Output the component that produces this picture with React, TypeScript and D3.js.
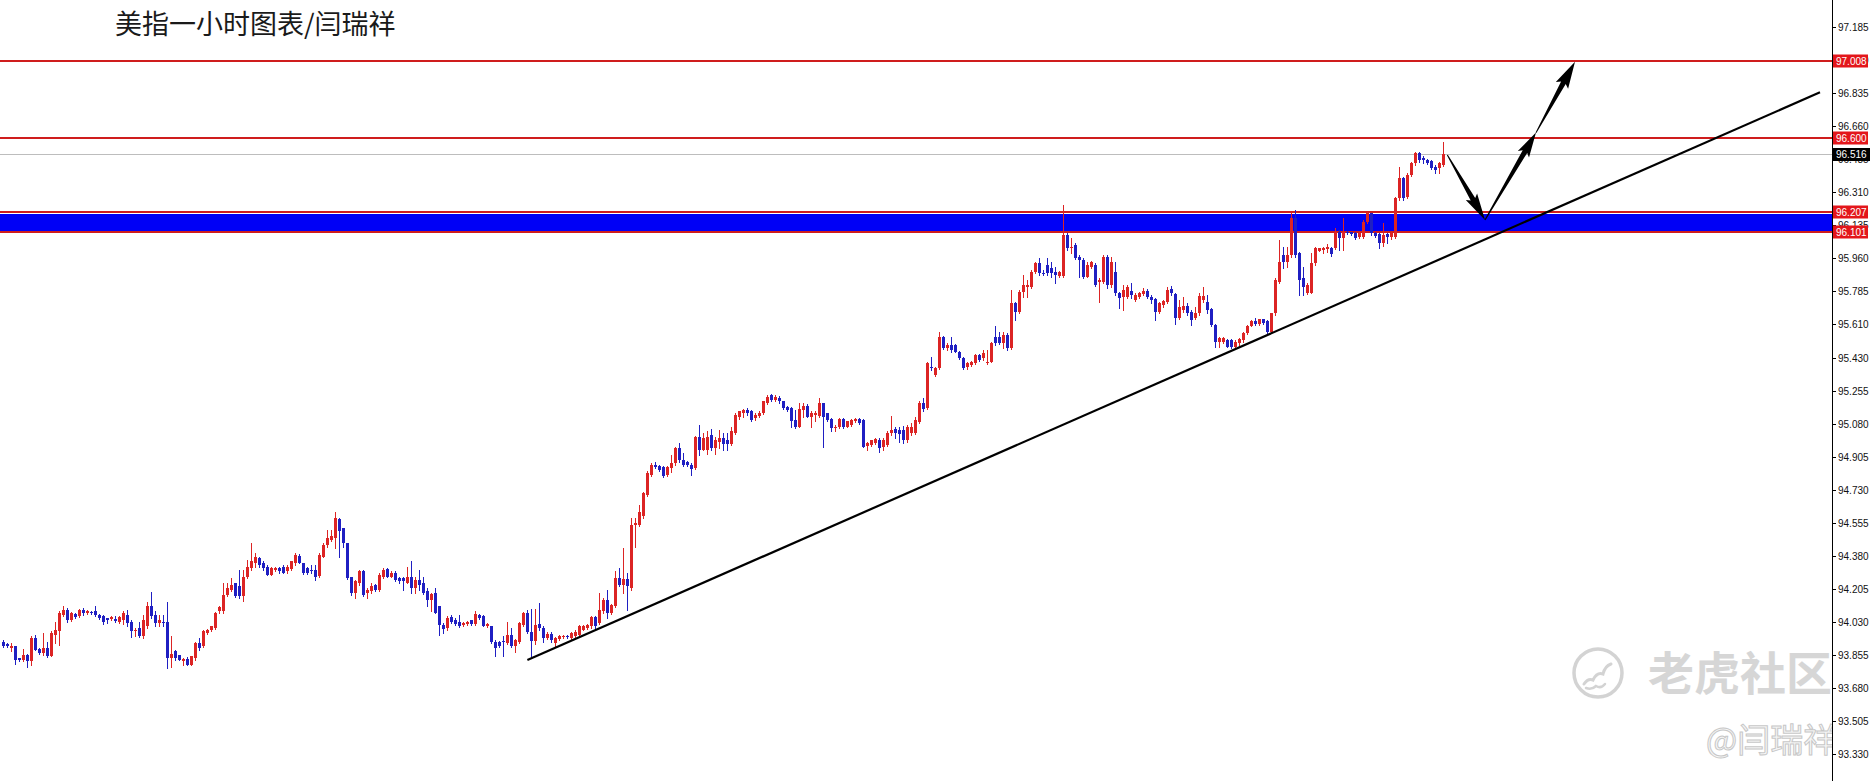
import React, { useEffect } from 'react';
import * as d3 from 'd3';

// ---- Candle data (USD index, 1h) ----
const openP = [
93.926,93.914,93.891,93.900,93.838,93.829,93.856,93.820,93.944,93.886,
93.864,93.891,93.850,93.962,93.980,94.068,94.094,94.041,94.073,94.059,
94.094,94.077,94.082,94.086,94.068,94.059,94.050,94.045,94.045,94.032,
94.041,94.068,94.032,93.980,93.997,93.953,94.006,94.116,94.068,94.024,
94.032,94.032,93.838,93.873,93.852,93.820,93.834,93.803,93.841,93.918,
93.900,93.971,93.985,93.997,94.086,94.086,94.174,94.200,94.236,94.218,
94.165,94.271,94.315,94.342,94.368,94.342,94.324,94.280,94.303,94.315,
94.324,94.298,94.310,94.342,94.381,94.342,94.315,94.303,94.307,94.275,
94.377,94.436,94.466,94.475,94.575,94.528,94.448,94.271,94.183,94.236,
94.298,94.183,94.195,94.227,94.200,94.271,94.310,94.271,94.289,94.262,
94.262,94.239,94.271,94.209,94.253,94.236,94.192,94.147,94.183,94.112,
94.015,93.997,94.055,94.041,94.032,94.015,94.020,94.038,94.020,94.068,
94.063,94.006,94.006,93.926,93.926,93.930,93.918,93.962,93.900,93.926,
94.015,94.077,93.975,93.930,94.020,93.997,93.944,93.967,93.918,93.940,
93.950,93.955,93.944,93.953,93.962,93.988,93.997,94.006,94.056,94.024,
94.086,94.147,94.077,94.112,94.262,94.227,94.257,94.209,94.545,94.545,
94.590,94.705,94.811,94.864,94.858,94.851,94.811,94.846,94.872,94.952,
94.890,94.881,94.864,94.846,95.014,94.943,94.943,95.023,94.952,94.987,
95.005,94.996,94.975,95.032,95.117,95.138,95.155,95.147,95.111,95.124,
95.138,95.191,95.235,95.209,95.221,95.200,95.173,95.164,95.102,95.067,
95.155,95.177,95.120,95.129,95.124,95.194,95.138,95.106,95.058,95.064,
95.106,95.067,95.076,95.094,95.106,95.102,94.965,94.970,94.979,94.996,
94.961,94.970,95.032,95.053,95.049,95.050,94.996,95.032,95.032,95.090,
95.191,95.164,95.385,95.341,95.376,95.544,95.483,95.500,95.500,95.465,
95.430,95.385,95.394,95.403,95.447,95.430,95.403,95.412,95.544,95.544,
95.509,95.553,95.483,95.721,95.677,95.783,95.806,95.810,95.889,95.934,
95.880,95.925,95.907,95.889,95.866,95.866,96.084,96.013,96.031,95.969,
95.951,95.863,95.916,95.925,95.836,95.836,95.969,95.819,95.889,95.774,
95.757,95.757,95.789,95.739,95.757,95.771,95.789,95.757,95.743,95.677,
95.713,95.730,95.796,95.771,95.642,95.686,95.707,95.677,95.642,95.668,
95.739,95.730,95.689,95.606,95.518,95.518,95.527,95.527,95.491,95.513,
95.527,95.562,95.601,95.629,95.612,95.636,95.629,95.571,95.668,95.836,
95.978,95.942,95.978,96.172,95.987,95.854,95.774,95.778,95.934,96.001,
96.004,96.008,96.013,96.013,96.102,96.066,96.102,96.097,96.093,96.071,
96.075,96.155,96.199,96.093,96.089,96.040,96.089,96.075,96.075,96.278,
96.384,96.284,96.402,96.464,96.521,96.491,96.482,96.478,96.446,96.437,96.455
];
const highP = [
93.935,93.918,93.918,93.902,93.841,93.886,93.860,93.953,93.962,93.890,
93.971,93.923,93.980,94.032,94.086,94.112,94.103,94.082,94.077,94.098,
94.103,94.094,94.089,94.112,94.071,94.068,94.050,94.059,94.059,94.064,
94.086,94.094,94.041,93.997,94.032,94.068,94.135,94.188,94.086,94.068,
94.068,94.135,93.953,93.879,93.856,93.838,93.843,93.850,93.921,93.944,
93.988,93.993,94.009,94.080,94.112,94.236,94.236,94.262,94.239,94.307,
94.307,94.360,94.448,94.395,94.377,94.351,94.333,94.321,94.321,94.321,
94.333,94.333,94.354,94.395,94.391,94.345,94.321,94.333,94.333,94.395,
94.448,94.519,94.519,94.612,94.581,94.528,94.448,94.271,94.253,94.307,
94.307,94.209,94.236,94.230,94.289,94.315,94.315,94.298,94.298,94.266,
94.271,94.321,94.354,94.271,94.307,94.271,94.209,94.183,94.209,94.116,
94.024,94.059,94.068,94.050,94.068,94.029,94.036,94.041,94.086,94.071,
94.068,94.024,94.009,93.935,93.930,93.953,94.032,93.997,93.939,94.032,
94.080,94.094,94.100,94.100,94.130,94.010,93.975,93.975,93.950,93.958,
93.960,93.962,93.975,93.985,94.015,94.015,94.020,94.060,94.060,94.183,
94.156,94.201,94.125,94.298,94.315,94.422,94.289,94.581,94.581,94.652,
94.722,94.830,94.872,94.880,94.862,94.855,94.855,94.917,94.961,94.979,
94.926,94.885,94.876,95.018,95.076,95.032,95.041,95.053,95.014,95.046,
95.035,95.035,95.062,95.138,95.152,95.159,95.168,95.155,95.138,95.147,
95.203,95.235,95.240,95.235,95.230,95.205,95.177,95.170,95.155,95.194,
95.191,95.187,95.147,95.147,95.217,95.194,95.141,95.111,95.076,95.111,
95.111,95.099,95.106,95.111,95.111,95.106,94.987,94.998,95.005,95.005,
95.005,95.041,95.124,95.067,95.067,95.070,95.076,95.085,95.120,95.200,
95.217,95.412,95.438,95.385,95.571,95.548,95.509,95.544,95.505,95.470,
95.438,95.412,95.417,95.452,95.452,95.474,95.474,95.518,95.598,95.571,
95.571,95.562,95.792,95.730,95.792,95.872,95.845,95.898,95.942,95.960,
95.898,95.960,95.942,95.916,95.893,96.243,96.093,96.066,96.040,95.978,
95.960,95.942,95.948,95.934,95.854,95.978,95.978,95.969,95.942,95.783,
95.819,95.819,95.827,95.774,95.783,95.801,95.796,95.766,95.748,95.730,
95.739,95.810,95.813,95.774,95.739,95.757,95.721,95.686,95.700,95.774,
95.806,95.766,95.695,95.612,95.541,95.541,95.530,95.530,95.527,95.536,
95.571,95.606,95.633,95.642,95.640,95.640,95.633,95.672,95.854,96.057,
96.022,96.022,96.208,96.216,95.995,95.916,95.827,95.987,96.022,96.017,
96.022,96.036,96.022,96.119,96.110,96.172,96.106,96.102,96.097,96.097,
96.163,96.208,96.202,96.097,96.093,96.146,96.093,96.102,96.287,96.446,
96.393,96.411,96.473,96.526,96.526,96.503,96.485,96.482,96.455,96.473,96.579
];
const lowP = [
93.895,93.896,93.873,93.806,93.820,93.820,93.790,93.803,93.879,93.860,
93.856,93.845,93.847,93.918,93.909,94.059,94.032,94.036,94.050,94.055,
94.068,94.073,94.073,94.059,94.045,94.020,94.024,94.038,94.027,94.024,
94.020,94.006,93.949,93.953,93.949,93.944,93.997,94.050,94.006,94.006,
94.006,93.785,93.790,93.829,93.826,93.803,93.799,93.799,93.829,93.882,
93.895,93.965,93.980,93.993,94.077,94.077,94.165,94.192,94.160,94.156,
94.139,94.262,94.307,94.324,94.324,94.307,94.277,94.277,94.298,94.292,
94.289,94.292,94.307,94.333,94.342,94.285,94.285,94.292,94.253,94.271,
94.374,94.430,94.457,94.421,94.377,94.430,94.259,94.174,94.156,94.227,
94.169,94.156,94.183,94.195,94.195,94.262,94.266,94.266,94.248,94.239,
94.200,94.236,94.183,94.183,94.200,94.179,94.112,94.086,94.077,93.962,
93.971,93.988,94.024,94.011,94.002,94.006,94.015,94.015,94.015,94.045,
94.006,94.002,93.918,93.847,93.895,93.847,93.914,93.896,93.868,93.918,
94.006,93.970,93.847,93.915,93.988,93.926,93.940,93.926,93.900,93.935,
93.945,93.946,93.940,93.950,93.958,93.985,93.993,94.000,94.000,94.020,
94.077,94.050,94.070,94.108,94.218,94.183,94.095,94.201,94.430,94.537,
94.581,94.700,94.802,94.846,94.830,94.798,94.805,94.828,94.864,94.881,
94.858,94.860,94.811,94.841,94.917,94.940,94.922,94.943,94.922,94.952,
94.940,94.940,94.970,95.028,95.106,95.117,95.129,95.099,95.102,95.120,
95.134,95.187,95.205,95.205,95.194,95.159,95.152,95.067,95.058,95.064,
95.120,95.117,95.067,95.094,95.120,94.961,95.099,95.041,95.041,95.060,
95.060,95.062,95.071,95.090,95.080,94.956,94.940,94.965,94.975,94.934,
94.940,94.965,95.023,95.005,94.987,94.980,94.987,95.023,95.028,95.085,
95.147,95.159,95.368,95.336,95.371,95.477,95.474,95.465,95.460,95.425,
95.371,95.371,95.390,95.399,95.417,95.421,95.399,95.407,95.500,95.506,
95.483,95.474,95.478,95.633,95.672,95.757,95.757,95.801,95.880,95.872,
95.872,95.872,95.863,95.827,95.862,95.863,96.004,95.987,95.955,95.863,
95.854,95.859,95.907,95.813,95.730,95.827,95.801,95.810,95.766,95.695,
95.686,95.748,95.748,95.735,95.748,95.766,95.748,95.721,95.633,95.668,
95.704,95.725,95.766,95.612,95.636,95.677,95.659,95.606,95.636,95.659,
95.730,95.668,95.601,95.491,95.491,95.513,95.488,95.486,95.488,95.500,
95.518,95.559,95.598,95.606,95.608,95.612,95.566,95.566,95.659,95.831,
95.907,95.916,95.969,95.969,95.766,95.766,95.771,95.774,95.925,95.997,
95.990,95.995,95.973,96.008,96.004,96.004,96.089,96.084,96.061,96.066,
96.066,96.146,96.084,96.075,96.013,96.025,96.040,96.061,96.066,96.270,
96.270,96.278,96.397,96.455,96.473,96.468,96.460,96.432,96.411,96.411,96.450
];
const closeP = [
93.900,93.900,93.900,93.829,93.826,93.856,93.820,93.944,93.882,93.864,
93.891,93.847,93.971,93.985,94.077,94.094,94.041,94.077,94.055,94.094,
94.077,94.089,94.077,94.068,94.050,94.032,94.041,94.054,94.036,94.054,
94.077,94.024,93.980,93.988,93.953,94.041,94.112,94.059,94.024,94.038,
94.027,93.838,93.861,93.838,93.829,93.834,93.803,93.847,93.918,93.891,
93.980,93.988,94.006,94.077,94.107,94.174,94.209,94.227,94.165,94.165,
94.271,94.324,94.351,94.377,94.333,94.315,94.280,94.315,94.315,94.298,
94.292,94.321,94.351,94.386,94.345,94.289,94.289,94.298,94.271,94.386,
94.439,94.475,94.487,94.581,94.510,94.448,94.262,94.183,94.245,94.298,
94.174,94.200,94.222,94.200,94.280,94.307,94.271,94.289,94.253,94.245,
94.245,94.271,94.209,94.253,94.227,94.183,94.147,94.179,94.077,94.015,
93.992,94.050,94.032,94.020,94.006,94.024,94.032,94.020,94.071,94.050,
94.009,94.020,93.926,93.891,93.900,93.926,93.962,93.900,93.935,94.024,
94.077,93.979,93.930,94.015,93.997,93.944,93.967,93.935,93.944,93.953,
93.955,93.952,93.971,93.979,94.006,94.010,94.015,94.056,94.006,94.095,
94.147,94.077,94.121,94.262,94.227,94.257,94.218,94.545,94.554,94.616,
94.713,94.823,94.864,94.851,94.834,94.802,94.851,94.872,94.952,94.890,
94.864,94.864,94.841,95.014,94.943,95.005,95.014,94.952,94.996,95.005,
94.975,94.975,95.041,95.129,95.147,95.155,95.138,95.102,95.129,95.141,
95.200,95.226,95.209,95.223,95.200,95.164,95.155,95.094,95.067,95.159,
95.177,95.120,95.138,95.138,95.194,95.120,95.102,95.058,95.067,95.106,
95.064,95.094,95.102,95.106,95.085,94.961,94.982,94.993,95.000,94.952,
94.996,95.035,95.049,95.032,95.028,94.996,95.067,95.067,95.100,95.191,
95.160,95.403,95.376,95.376,95.544,95.483,95.500,95.474,95.465,95.430,
95.376,95.403,95.412,95.447,95.421,95.456,95.412,95.509,95.509,95.509,
95.553,95.483,95.721,95.677,95.783,95.819,95.819,95.889,95.934,95.880,
95.878,95.880,95.880,95.872,95.889,96.084,96.013,96.022,95.960,95.951,
95.863,95.925,95.942,95.819,95.845,95.969,95.819,95.942,95.774,95.748,
95.792,95.806,95.766,95.766,95.778,95.789,95.757,95.739,95.677,95.721,
95.735,95.792,95.774,95.642,95.704,95.707,95.668,95.633,95.668,95.760,
95.760,95.686,95.606,95.518,95.536,95.536,95.491,95.491,95.518,95.530,
95.562,95.601,95.629,95.612,95.636,95.615,95.571,95.668,95.845,95.942,
95.942,95.978,96.172,95.978,95.845,95.810,95.819,95.934,96.013,96.013,
96.013,96.022,95.983,96.102,96.066,96.102,96.093,96.089,96.066,96.093,
96.155,96.199,96.093,96.079,96.040,96.084,96.075,96.093,96.278,96.384,
96.278,96.402,96.464,96.517,96.482,96.482,96.464,96.437,96.429,96.468,96.516
];

// ---- Axis / annotation data ----
const axisTicks = [93.330, 93.505, 93.680, 93.855, 94.030, 94.205, 94.380, 94.555, 94.730, 94.905,
  95.080, 95.255, 95.430, 95.610, 95.785, 95.960, 96.135, 96.310, 96.485, 96.660, 96.835, 97.010, 97.185];
const levelLines = [97.008, 96.600, 96.207, 96.101];
const bandLevels = [96.207, 96.101];
const lastPrice = 96.516;
const trendIdx = [131.1, 454.25];
const trendPrice = [93.828, 96.841];
const arrowIdx = [361.08, 370.5, 383.25, 393.0];
const arrowPrice = [96.508, 96.163, 96.627, 97.003];
const titleText = '美指一小时图表/闫瑞祥';
const wmMain = '老虎社区';
const wmSub = '@闫瑞祥';

function arrowPoints(x0: number, y0: number, x1: number, y1: number, headLen: number, headHalf: number, w0: number, w1: number) {
  const dx = x1 - x0, dy = y1 - y0;
  const len = Math.hypot(dx, dy);
  const ux = dx / len, uy = dy / len;
  const nx = -uy, ny = ux;
  const bx = x1 - ux * headLen, by = y1 - uy * headLen;
  const pts = [
    [x0 + nx * w0, y0 + ny * w0],
    [bx + nx * w1, by + ny * w1],
    [bx + nx * headHalf - ux * 3, by + ny * headHalf - uy * 3],
    [x1, y1],
    [bx - nx * headHalf - ux * 3, by - ny * headHalf - uy * 3],
    [bx - nx * w1, by - ny * w1],
    [x0 - nx * w0, y0 - ny * w0],
  ];
  return pts.map(p => p[0].toFixed(1) + ',' + p[1].toFixed(1)).join(' ');
}

export default function App() {
  useEffect(() => {
    document.body.style.margin = '0';
    document.body.style.overflow = 'hidden';
  }, []);

  const W = 1871, H = 781, axisX = 1832;
  const x = d3.scaleLinear().domain([0, 360]).range([3, 1443]);
  const y = d3.scaleLinear().domain([93.33, 96.6]).range([753.8, 137.7]);
  const RED = '#dc2424', BLUE = '#1f1fc2', LINE_RED = '#cf1d1d', LABEL_RED = '#e3161b';
  const axisFont = "'Liberation Sans', Arial, sans-serif";
  const cjkFont = "'Noto Sans CJK SC', 'Noto Sans', sans-serif";

  const candles = closeP.map((c, i) => {
    const o = openP[i], h = Math.max(highP[i], o, c), l = Math.min(lowP[i], o, c);
    const cx = Math.round(x(i));
    const col = c >= o ? RED : BLUE;
    const top = Math.round(y(Math.max(o, c)));
    const bot = Math.round(y(Math.min(o, c)));
    return (
      <g key={i}>
        <line x1={cx + 0.5} x2={cx + 0.5} y1={Math.round(y(h))} y2={Math.round(y(l)) + 1} stroke={col} strokeWidth={1} />
        <rect x={cx - 1} y={top} width={3} height={Math.max(1, bot - top)} fill={col} />
      </g>
    );
  });

  const trendLine = d3.line<number>()
    .x((_, k) => x(trendIdx[k]))
    .y((p) => y(p))(trendPrice) || '';

  const ax = arrowIdx.map(i => x(i));
  const ay = arrowPrice.map(p => y(p));

  const bandTop = Math.round(y(bandLevels[0]));
  const bandBot = Math.round(y(bandLevels[1]));

  return (
    <svg width={W} height={H} style={{ position: 'absolute', left: 0, top: 0, background: '#fff', display: 'block' }}>
      <rect x={0} y={0} width={W} height={H} fill="#ffffff" />
      {/* band */}
      <rect x={0} y={bandTop + 2} width={axisX} height={bandBot - bandTop - 2} fill="#0000f6" />
      {/* current price line */}
      <line x1={0} x2={axisX} y1={Math.round(y(lastPrice)) + 0.5} y2={Math.round(y(lastPrice)) + 0.5} stroke="#bdbdbd" strokeWidth={1} />
      {/* level lines */}
      {levelLines.map((v, k) => (
        <line key={k} x1={0} x2={axisX} y1={Math.round(y(v))} y2={Math.round(y(v))} stroke={LINE_RED} strokeWidth={2} />
      ))}
      {/* candles */}
      <g shapeRendering="crispEdges">{candles}</g>
      {/* trend line */}
      <path d={trendLine} stroke="#000" strokeWidth={2.2} fill="none" />
      {/* arrows */}
      <polygon points={arrowPoints(ax[0], ay[0], ax[1], ay[1], 24, 6.5, 0.5, 2.6)} fill="#000" />
      <polygon points={arrowPoints(ax[1], ay[1], ax[2], ay[2], 22, 6.5, 0.6, 2.6)} fill="#000" />
      <polygon points={arrowPoints(ax[2], ay[2], ax[3], ay[3], 24, 7, 0.5, 2.6)} fill="#000" />
      {/* title */}
      <text x={115} y={34} fontFamily={cjkFont} fontSize={27} fill="#1a1a1a">{titleText}</text>
      {/* watermark */}
      <g opacity={0.9}>
        <circle cx={1598} cy={673} r={24} fill="none" stroke="#cfcfcf" strokeWidth={3.5} />
        <path d="M1584,684 q4,-6 9,-4 q4,-8 10,-6 q2,-8 8,-10" fill="none" stroke="#cfcfcf" strokeWidth={3} strokeLinecap="round" />
        <path d="M1586,688 q6,2 10,-2 q5,3 9,-2" fill="none" stroke="#cfcfcf" strokeWidth={2.5} strokeLinecap="round" />
        <text x={1648} y={690} fontFamily={cjkFont} fontSize={46} fontWeight={700} fill="#d2d2d2">{wmMain}</text>
        <text x={1706} y={752} fontFamily={cjkFont} fontSize={33} fill="#f6f6f6" stroke="#c2c2c2" strokeWidth={1}>{wmSub}</text>
      </g>
      {/* axis */}
      <rect x={axisX} y={0} width={W - axisX} height={H} fill="#fff" />
      <line x1={axisX + 0.5} x2={axisX + 0.5} y1={0} y2={H} stroke="#000" strokeWidth={1} />
      {axisTicks.map((v, k) => {
        const ty = Math.round(y(v)) + 0.5;
        return (
          <g key={k}>
            <line x1={axisX} x2={axisX + 4} y1={ty} y2={ty} stroke="#000" strokeWidth={1} />
            <text x={1838} y={ty + 3.5} fontFamily={axisFont} fontSize={10} fill="#111">{v.toFixed(3)}</text>
          </g>
        );
      })}
      {levelLines.map((v, k) => {
        const ty = Math.round(y(v));
        return (
          <g key={'lb' + k}>
            <rect x={axisX + 1} y={ty - 6.5} width={35} height={13} fill={LABEL_RED} />
            <text x={1836} y={ty + 3.5} fontFamily={axisFont} fontSize={10} fill="#fff">{v.toFixed(3)}</text>
          </g>
        );
      })}
      <g>
        <rect x={axisX + 1} y={Math.round(y(lastPrice)) - 6} width={37} height={13} fill="#000" />
        <text x={1836} y={Math.round(y(lastPrice)) + 4} fontFamily={axisFont} fontSize={10} fill="#fff">{lastPrice.toFixed(3)}</text>
      </g>
    </svg>
  );
}
